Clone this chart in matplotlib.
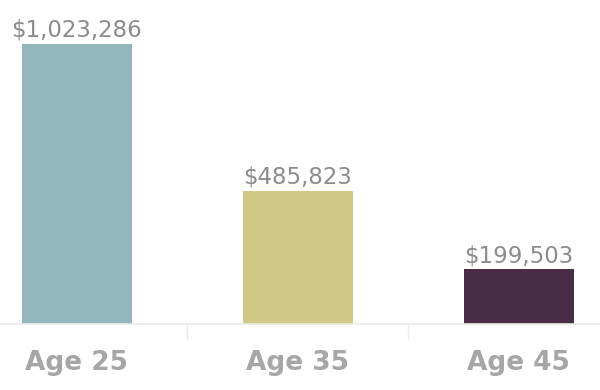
import matplotlib
matplotlib.use("Agg")
import matplotlib.pyplot as plt

categories = ["Age 25", "Age 35", "Age 45"]
values = [1023286, 485823, 199503]
value_labels = ["$1,023,286", "$485,823", "$199,503"]
colors = ["#93b7bd", "#cfc985", "#4b2d47"]

fig = plt.figure(figsize=(6, 3.9), dpi=100)
ax = fig.add_axes([0, 66/390, 1, 324/390])
x = list(range(len(categories)))
ax.bar(x, values, width=0.5, color=colors, zorder=2)
ax.set_xlim(-0.348, 2.367)
ax.set_ylim(0, 324*3654.6)

for xi, v, lab in zip(x, values, value_labels):
    ax.annotate(lab, (xi, v), xytext=(0, 1.5), textcoords="offset points",
                ha="center", va="bottom", fontsize=16.5, color="#8c8c8c",
                family="DejaVu Sans")

for s in ["top", "right", "left"]:
    ax.spines[s].set_visible(False)
ax.spines["bottom"].set_color("#ebebeb")
ax.spines["bottom"].set_linewidth(1.2)
ax.set_yticks([])
ax.set_xticks([0.5, 1.5], minor=True)
ax.tick_params(axis="x", which="minor", length=11, color="#ebebeb", width=1)
ax.tick_params(axis="x", which="major", length=0, pad=19)
ax.set_xticks(x)
ax.set_xticklabels(categories, fontsize=19, fontweight="bold", color="#a6a6a6")

fig.savefig("out.png", dpi=100, facecolor="white")
